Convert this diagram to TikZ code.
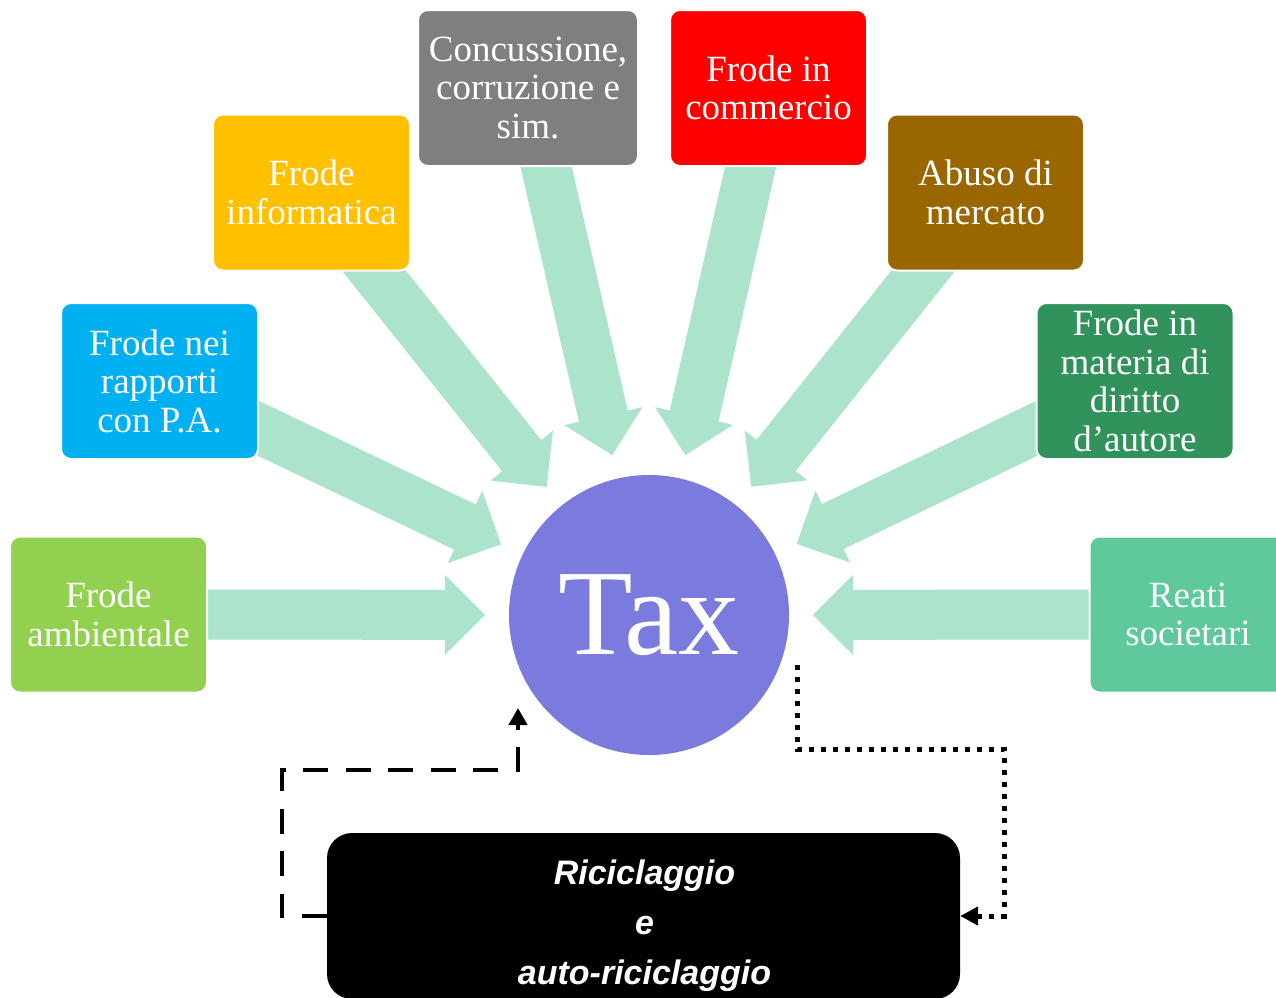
\documentclass[tikz,border=0pt]{standalone}
\usepackage{fontspec}
\setmainfont{Liberation Serif}
\newfontfamily\sansfont{Liberation Sans}
\usetikzlibrary{calc,arrows.meta}
\pgfdeclarelayer{back}
\pgfsetlayers{back,main}

\definecolor{cAmb}{HTML}{92D050}
\definecolor{cPA}{HTML}{00B0F0}
\definecolor{cInfo}{HTML}{FFC000}
\definecolor{cConc}{HTML}{7F7F7F}
\definecolor{cComm}{HTML}{FF0000}
\definecolor{cAbuso}{HTML}{996600}
\definecolor{cAut}{HTML}{31935B}
\definecolor{cReati}{HTML}{5FC99B}
\definecolor{cMint}{HTML}{ABE3CB}
\definecolor{cTax}{HTML}{7B7BDE}

\tikzset{
  crimebox/.style={draw=white, line width=2pt, rounded corners=10pt,
    minimum width=197pt, minimum height=156pt, inner sep=0pt,
    align=center, text=white,
    font=\fontsize{37}{38.5}\selectfont},
  taxcircle/.style={circle, fill=cTax, minimum size=280pt, inner sep=0pt,
    text=white, font=\fontsize{122}{122}\selectfont},
  ricbox/.style={fill=black, rounded corners=25pt, minimum width=633pt,
    minimum height=166pt, inner sep=0pt},
  rictext/.style={align=center, text=white,
    font=\sansfont\bfseries\itshape\fontsize{34}{50}\selectfont},
  dashline/.style={line width=4.5pt, dash pattern=on 25pt off 17.5pt,
    -{Triangle[width=18pt,length=17pt]}},
  dotline/.style={line width=5pt, dash pattern=on 5pt off 7pt,
    -{Triangle[width=18pt,length=18pt]}},
}

% block arrow from a node centre (#1) towards a tip coordinate (#2)
\newcommand\mintarrow[2]{%
  \coordinate (hb) at ($(#2)!40pt!(#1)$);
  \fill[cMint] ($(#1)!25pt!90:(#2)$) -- ($(hb)!25pt!90:(#2)$)
    -- ($(hb)!40pt!90:(#2)$) -- (#2) -- ($(hb)!40pt!-90:(#2)$)
    -- ($(hb)!25pt!-90:(#2)$) -- ($(#1)!25pt!-90:(#2)$) -- cycle;
}

\begin{document}
\begin{tikzpicture}[x=1pt,y=1pt]
\useasboundingbox (0,0) rectangle (1276,-997);

% central circle
\node[taxcircle] (tax) at (649,-615) {Tax};

% source boxes
\node[crimebox, fill=cAmb]   (amb)   at (108.5,-614.5) {Frode\\ambientale};
\node[crimebox, fill=cPA]    (pa)    at (159.5,-381)   {Frode nei\\rapporti\\con P.A.};
\node[crimebox, fill=cInfo]  (info)  at (311.5,-192.5) {Frode\\informatica};
\node[crimebox, fill=cConc, minimum width=220pt] (conc) at (528,-88) {Concussione,\\corruzione e\\sim.};
\node[crimebox, fill=cComm]  (comm)  at (768.5,-88)    {Frode in\\commercio};
\node[crimebox, fill=cAbuso] (abuso) at (985.5,-192.5) {Abuso di\\mercato};
\node[crimebox, fill=cAut]   (aut)   at (1135,-381)    {Frode in\\materia di\\diritto\\d’autore};
\node[crimebox, fill=cReati] (reati) at (1188,-614.5)  {Reati\\societari};

% arrows converging on the circle
\begin{pgfonlayer}{back}
\foreach \src in {amb,pa,info,conc,comm,abuso,aut,reati}{
  \coordinate (tip-\src) at ($(tax.center)!164pt!(\src.center)$);
  \mintarrow{\src.center}{tip-\src}
}
\end{pgfonlayer}

% laundering box
\node[ricbox] (ric) at (643.5,-916) {};
\node[rictext] (rictxt) at ($(ric.center)+(1,-10)$) {Riciclaggio\\e\\auto-riciclaggio};

% feedback connectors
\coordinate (dtip) at (518,-708);
\draw[dashline] (ric.west) -- ++(-45,0) |- ($(dtip)+(0,-62)$) -- (dtip);

\coordinate (dstart) at (797,-665);
\draw[dotline] (dstart) |- (1004,-749) |- (ric.east);
\end{tikzpicture}
\end{document}
